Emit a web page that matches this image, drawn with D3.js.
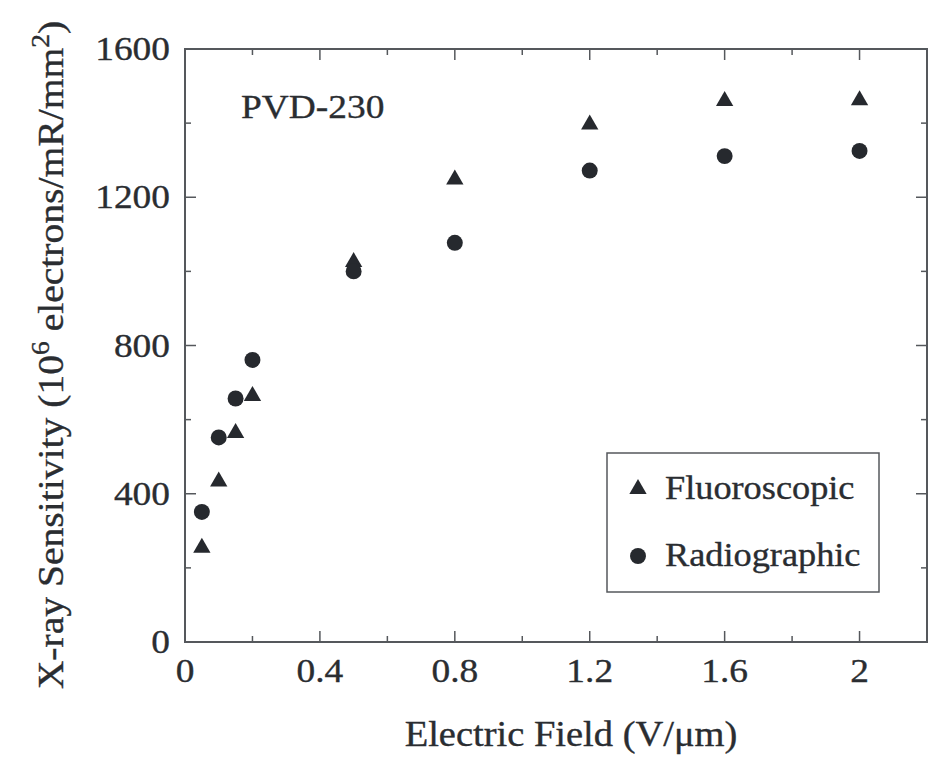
<!DOCTYPE html>
<html>
<head>
<meta charset="utf-8">
<script src="https://cdn.jsdelivr.net/npm/d3@7/dist/d3.min.js"></script>
<style>
  html, body { margin: 0; padding: 0; background: #fff; }
  svg { display: block; }
  text { font-family: "Liberation Serif", "Times New Roman", serif; fill: #2a2d31; stroke: #2a2d31; stroke-width: 0.35; }
</style>
</head>
<body>
<svg id="chart" width="930" height="758"></svg>
<script>
// Electric field (V/µm) at which sensitivity was measured
const fields = [0.05, 0.1, 0.15, 0.2, 0.5, 0.8, 1.2, 1.6, 2.0];
// X-ray sensitivity, 10^6 electrons/mR/mm^2
const fluoroscopic = [254, 433, 564, 664, 1025, 1248, 1396, 1460, 1462];
const radiographic = [351, 552, 657, 761, 1000, 1077, 1272, 1311, 1325];

const xMajorTicks = [0, 0.4, 0.8, 1.2, 1.6, 2.0];
const xMinorTicks = [0.2, 0.6, 1.0, 1.4, 1.8];
const yMajorTicks = [0, 400, 800, 1200, 1600];
const yMinorTicks = [200, 600, 1000, 1400];
const xTickLabels = ["0", "0.4", "0.8", "1.2", "1.6", "2"];
const yTickLabels = ["0", "400", "800", "1200", "1600"];

const seriesNames = ["Fluoroscopic", "Radiographic"];
const sampleLabel = "PVD-230";

const svg = d3.select("#chart");
const margin = { left: 185, top: 49, right: 3, bottom: 116 };
const W = 930, H = 758;
const plotW = W - margin.left - margin.right;
const plotH = H - margin.top - margin.bottom;

const x = d3.scaleLinear().domain([0, 2.2]).range([0, plotW]);
const y = d3.scaleLinear().domain([0, 1600]).range([plotH, 0]);

const g = svg.append("g").attr("transform", `translate(${margin.left},${margin.top})`);

const axisColor = "#55585c";
const ink = "#26292e";
const majorLen = 11, minorLen = 6;
// The typeface is set slightly wide
const stretch = 1.1;

function label(parent, tx, ty, str, size, anchor, rot) {
  const t = parent.append("text")
    .attr("transform", `translate(${tx},${ty})${rot ? ` rotate(${rot})` : ""} scale(${stretch},1)`)
    .attr("font-size", size)
    .attr("text-anchor", anchor || "start");
  if (str !== null) t.text(str);
  return t;
}

// Frame
g.append("rect")
  .attr("x", 0).attr("y", 0).attr("width", plotW).attr("height", plotH)
  .attr("fill", "none").attr("stroke", axisColor).attr("stroke-width", 2);

// Inward ticks on all four sides
function ticksX(vals, len) {
  vals.forEach(v => {
    g.append("line").attr("x1", x(v)).attr("x2", x(v)).attr("y1", plotH).attr("y2", plotH - len)
      .attr("stroke", axisColor).attr("stroke-width", 1.5);
    g.append("line").attr("x1", x(v)).attr("x2", x(v)).attr("y1", 0).attr("y2", len)
      .attr("stroke", axisColor).attr("stroke-width", 1.5);
  });
}
function ticksY(vals, len) {
  vals.forEach(v => {
    g.append("line").attr("x1", 0).attr("x2", len).attr("y1", y(v)).attr("y2", y(v))
      .attr("stroke", axisColor).attr("stroke-width", 1.5);
    g.append("line").attr("x1", plotW).attr("x2", plotW - len).attr("y1", y(v)).attr("y2", y(v))
      .attr("stroke", axisColor).attr("stroke-width", 1.5);
  });
}
ticksX(xMajorTicks.slice(1), majorLen);
ticksX(xMinorTicks, minorLen);
ticksY(yMajorTicks.slice(1), majorLen);
ticksY(yMinorTicks, minorLen);

// Tick labels
const tickFont = 34;
xMajorTicks.forEach((d, i) => label(g, x(d), plotH + 40, xTickLabels[i], tickFont, "middle"));
yMajorTicks.forEach((d, i) => label(g, -15, y(d) + 11, yTickLabels[i], tickFont, "end"));

// Axis titles
label(svg, 571, 746, "Electric Field (V/\u03bcm)", 35, "middle");

const yt = label(svg, 63, 355, null, 36, "middle", -90);
yt.append("tspan").text("X-ray Sensitivity (10");
yt.append("tspan").attr("font-size", 25).attr("dy", -14).text("6");
yt.append("tspan").attr("dy", 14).text(" electrons/mR/mm");
yt.append("tspan").attr("font-size", 25).attr("dy", -14).text("2");
yt.append("tspan").attr("dy", 14).text(")");

// Sample label
label(g, 56, 69, sampleLabel, 34);

// Markers
const triangle = d3.symbol().type(d3.symbolTriangle).size(130);
const circle = d3.symbol().type(d3.symbolCircle).size(200);

g.selectAll(".fl").data(fields).enter().append("path")
  .attr("d", triangle)
  .attr("transform", (d, i) => `translate(${x(d)},${y(fluoroscopic[i])})`)
  .attr("fill", ink);

g.selectAll(".rd").data(fields).enter().append("path")
  .attr("d", circle)
  .attr("transform", (d, i) => `translate(${x(d)},${y(radiographic[i])})`)
  .attr("fill", ink);

// Legend
const lg = svg.append("g").attr("transform", "translate(607,453)");
lg.append("rect").attr("width", 272).attr("height", 139)
  .attr("fill", "#fff").attr("stroke", axisColor).attr("stroke-width", 1.5);
lg.append("path").attr("d", triangle).attr("transform", "translate(31,36)").attr("fill", ink);
lg.append("path").attr("d", circle).attr("transform", "translate(31,103)").attr("fill", ink);
label(lg, 58, 46, seriesNames[0], 33);
label(lg, 58, 113, seriesNames[1], 33);
</script>
</body>
</html>
